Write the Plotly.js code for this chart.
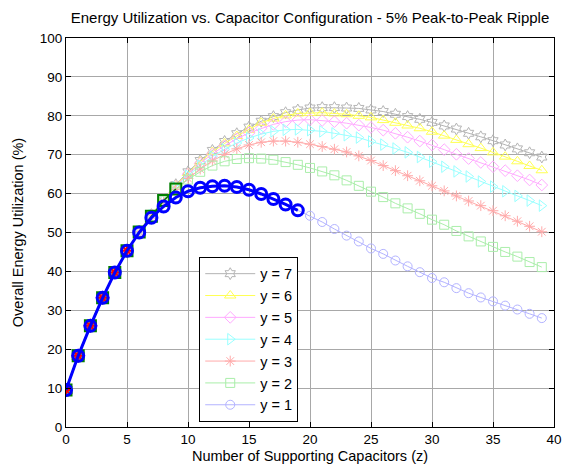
<!DOCTYPE html>
<html>
<head>
<meta charset="utf-8">
<script src="https://cdn.plot.ly/plotly-3.0.1.min.js"></script>
<style>html,body{margin:0;padding:0;background:#fff;}#chart{width:571px;height:468px;}</style>
</head>
<body>
<div id="chart"></div>
<script>
// Number of supporting capacitors z
var zValues = [0,1,2,3,4,5,6,7,8,9,10,11,12,13,14,15,16,17,18,19,20,21,22,23,24,25,26,27,28,29,30,31,32,33,34,35,36,37,38,39];

// Overall energy utilization (%) per series
var util_y7 = [9.5,18.3,26.0,33.2,39.7,45.3,50.3,54.6,58.6,62.3,65.6,68.5,71.1,73.4,75.4,77.1,78.6,79.8,80.8,81.5,82.0,82.1,82.1,82.0,81.9,81.5,81.1,80.4,79.8,79.1,78.3,77.4,76.6,75.5,74.6,73.6,72.5,71.5,70.5,69.4];
var util_y6 = [9.5,18.3,26.0,33.2,39.7,45.3,50.3,54.6,58.5,62.1,65.3,68.2,70.7,72.9,74.8,76.4,78.2,79.3,80.1,80.6,80.7,80.8,80.6,80.4,80.0,79.6,78.9,78.2,77.5,76.8,75.9,74.9,73.8,72.7,71.7,70.6,69.5,68.3,67.1,66.0];
var util_y5 = [9.5,18.3,26.0,33.2,39.7,45.3,50.3,54.5,58.4,61.9,65.0,67.8,70.2,72.3,74.1,75.6,76.8,77.8,78.5,78.9,79.0,78.8,78.5,78.1,77.6,77.0,76.3,75.5,74.5,73.5,72.5,71.3,70.1,69.0,68.0,66.9,65.9,64.6,63.5,62.2];
var util_y4 = [9.5,18.3,26.0,33.2,39.7,45.3,50.3,54.4,58.2,61.6,64.6,67.2,69.5,71.4,73.0,74.3,75.3,76.0,76.4,76.5,76.3,76.0,75.5,75.0,74.4,73.4,72.6,71.6,70.6,69.4,68.2,66.9,65.7,64.4,63.1,61.8,60.6,59.4,58.2,56.9];
var util_y3 = [9.5,18.3,26.0,33.2,39.7,45.3,50.2,54.3,57.9,61.1,63.9,66.3,68.4,70.1,71.5,72.5,73.2,73.5,73.5,73.2,72.7,72.1,71.4,70.7,69.7,68.5,67.2,65.9,64.6,63.3,62.0,60.7,59.4,58.1,56.9,55.6,54.3,52.9,51.6,50.2];
var util_y2 = [9.5,18.3,26.0,33.2,39.7,45.3,50.1,54.2,58.2,61.2,63.6,65.6,67.2,68.3,68.9,69.1,69.0,68.7,68.1,67.4,66.6,65.7,64.7,63.4,62.0,60.5,59.1,57.5,56.2,54.8,53.3,52.0,50.4,49.0,47.7,46.3,45.0,43.8,42.4,41.1];
var util_y1 = [9.5,18.3,26.0,33.2,39.7,45.3,50.0,53.8,56.7,59.0,60.6,61.5,61.9,62.0,61.7,61.0,59.9,58.6,57.2,55.7,54.3,52.7,50.9,49.2,47.7,45.9,44.5,42.8,41.3,39.8,38.3,37.2,35.7,34.4,33.3,32.3,31.2,30.2,29.1,28.0];

// Series labels and number of valid (highlighted) points per series
var seriesNames = ['y = 7','y = 6','y = 5','y = 4','y = 3','y = 2','y = 1'];
var validCounts = [2,3,4,5,6,10,20];

var seriesData = [util_y7, util_y6, util_y5, util_y4, util_y3, util_y2, util_y1];
var lightColors = ['#b4b4b4','#ffff55','#ffaaff','#99ffff','#ffaaaa','#aaeeaa','#b3b3ff'];
var darkColors  = ['#808080','#e0e000','#ff00ff','#00cccc','#ff0000','#007f00','#0000ff'];
var symbols = ['hexagram-open','triangle-up-open','diamond-open','triangle-right-open','asterisk-open','square-open','circle-open'];
var msizes = [9,10,9,10,9,9,9];

var traces = [];
for (var i = 0; i < seriesData.length; i++) {
  traces.push({
    x: zValues, y: seriesData[i], type: 'scatter', mode: 'lines+markers',
    name: seriesNames[i], legendgroup: 'g'+i,
    line: {color: lightColors[i], width: 1},
    marker: {symbol: symbols[i], size: msizes[i], color: lightColors[i], line: {color: lightColors[i], width: 1}},
    hoverinfo: 'x+y'
  });
}
for (var j = 0; j < seriesData.length; j++) {
  var n = validCounts[j];
  var isBlue = (j === seriesData.length - 1);
  var isGreen = (j === seriesData.length - 2);
  traces.push({
    x: zValues.slice(0, n), y: seriesData[j].slice(0, n), type: 'scatter', mode: 'lines+markers',
    showlegend: false, legendgroup: 'b'+j,
    line: {color: darkColors[j], width: isBlue ? 3 : 1.5},
    marker: {symbol: symbols[j], size: isBlue ? 11 : (isGreen ? 11 : msizes[j]), color: darkColors[j],
             line: {color: darkColors[j], width: isBlue ? 3 : 2}},
    hoverinfo: 'x+y'
  });
}

var fontFam = 'Liberation Sans, Arial, sans-serif';
var layout = {
  width: 571, height: 468,
  margin: {l: 66, r: 17, t: 38, b: 41},
  paper_bgcolor: '#ffffff', plot_bgcolor: '#ffffff',
  font: {family: fontFam, size: 13, color: '#000'},
  title: {text: 'Energy Utilization vs. Capacitor Configuration - 5% Peak-to-Peak Ripple',
          font: {family: fontFam, size: 15, color: '#000'},
          xref: 'paper', x: 0.5, xanchor: 'center', y: 0.962, yanchor: 'middle'},
  xaxis: {
    range: [0, 40], dtick: 5, tick0: 0,
    showgrid: true, gridcolor: '#a8a8a8', gridwidth: 1,
    showline: true, linecolor: '#000', linewidth: 1, mirror: 'ticks',
    ticks: 'inside', ticklen: 5, tickcolor: '#000',
    zeroline: false, tickfont: {size: 13.5},
    title: {text: 'Number of Supporting Capacitors (z)', font: {size: 14.5}, standoff: 4}
  },
  yaxis: {
    range: [0, 100], dtick: 10, tick0: 0,
    showgrid: true, gridcolor: '#a8a8a8', gridwidth: 1,
    showline: true, linecolor: '#000', linewidth: 1, mirror: 'ticks',
    ticks: 'inside', ticklen: 5, tickcolor: '#000',
    zeroline: false, tickfont: {size: 13.5},
    title: {text: 'Overall Energy Utilization (%)', font: {size: 14.5}, standoff: 12}
  },
  legend: {
    x: 0.273, y: 0.4377, xanchor: 'left', yanchor: 'top',
    bgcolor: '#ffffff', bordercolor: '#000', borderwidth: 1,
    font: {size: 14.5, color: '#000'}, tracegroupgap: 0, itemwidth: 50
  },
  showlegend: true
};

Plotly.newPlot('chart', traces, layout, {displayModeBar: false, staticPlot: true});
</script>
</body>
</html>
